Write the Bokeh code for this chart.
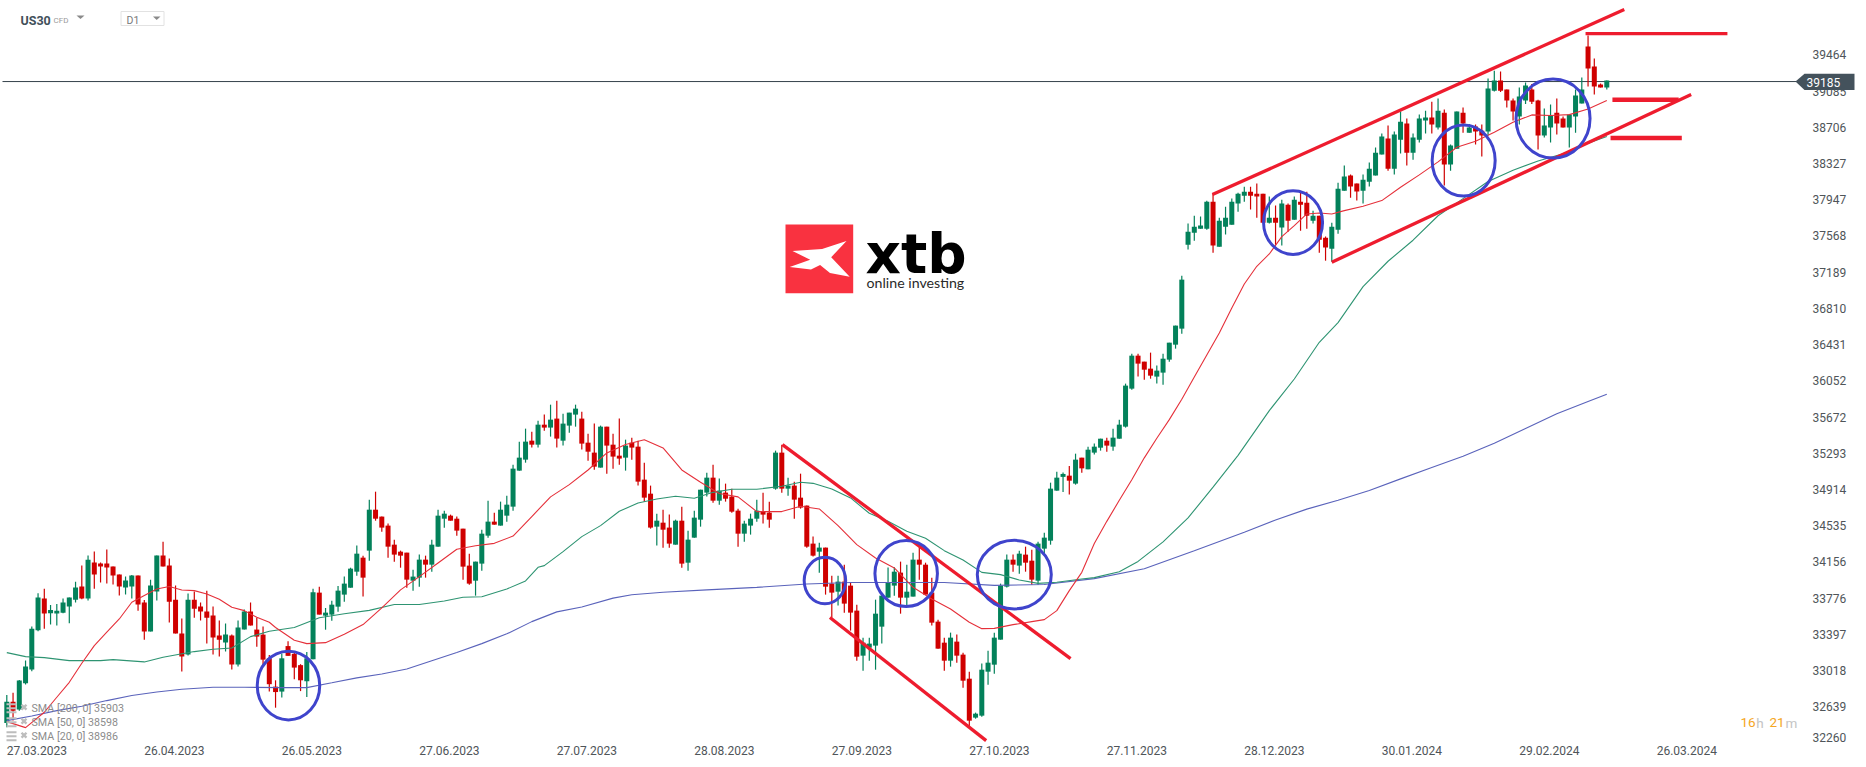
from bokeh.plotting import figure
from bokeh.models import Range1d, FixedTicker
from bokeh.core.properties import value
from bokeh.embed import file_html
from bokeh.resources import INLINE

open_ = [32416,32641,32557,32835,32979,33394,33728,33573,33570,33580,33644,33717,33855,33728,34108,34097,34097,34066,33981,33844,
33855,33971,33686,33380,33802,34182,34076,33717,33359,33137,33717,33644,33591,33549,33338,33264,33338,33032,33401,33591,
33401,33348,33098,32799,32747,33227,33145,33026,32856,33088,33791,33548,33559,33643,33770,33843,34012,34160,34234,34666,
34593,34498,34297,34223,34213,33917,33949,34139,34086,34276,34571,34603,34571,34466,34076,33917,34097,34392,34540,34498,
34603,34698,35078,35194,35394,35352,35563,35532,35627,35394,35553,35669,35627,35373,35268,35110,35542,35352,35236,35215,
35373,35331,34983,34835,34487,34529,34477,34297,34550,34107,34371,34561,34846,35004,34761,34846,34804,34656,34413,34498,
34571,34645,34635,34888,35268,34888,34920,34793,34709,34308,34223,34266,33886,33801,33907,33865,33601,33126,33210,33232,
33432,33738,33865,34002,33738,33749,34139,34086,33791,33485,33263,33073,33274,33137,32883,32472,32493,32957,33031,33295,
33854,34139,34076,34192,34128,33917,34255,34339,34867,35012,35025,34941,35215,35092,35268,35320,35394,35331,35415,35542,
35943,36291,36228,36154,36070,36112,36249,36407,36576,37462,37589,37631,37631,37916,37441,37652,37673,37895,37979,38021,
38000,38000,37694,37747,37642,37884,37726,37916,37905,37715,37768,37536,37420,37620,38032,38191,38106,38032,38127,38191,
38412,38581,38264,38570,38739,38433,38570,38771,38803,38697,38855,38307,38475,38855,38644,38708,38665,38655,39087,39193,
39098,38982,38813,38982,39098,38982,38613,38697,38855,38792,38697,38813,38950,39552,39341,39151,39119]
high = [32712,32736,32870,33074,33433,33784,33833,33661,33672,33728,33739,33907,34076,34182,34224,34108,34245,34066,33981,33960,
33978,33971,33714,33928,34182,34329,34150,33865,33517,33781,33802,33686,33812,33644,33496,33464,33348,33496,33612,33686,
33527,33433,33134,32866,33150,33279,33160,33036,33165,33831,33854,33629,33706,33861,33960,34054,34287,34181,34772,34856,
34593,34519,34350,34234,34213,34033,34192,34181,34350,34666,34656,34614,34593,34466,34202,34118,34455,34761,34635,34751,
34814,35141,35384,35521,35489,35605,35669,35774,35816,35679,35690,35774,35700,35468,35574,35553,35542,35468,35627,35405,
35426,35394,35162,34920,34624,34666,34614,34561,34698,34445,34656,34877,35057,35141,34994,34941,34888,34677,34550,34624,
34772,34846,34751,35289,35352,35004,34962,35046,34709,34382,34318,34266,33970,33970,34086,33896,33664,33316,33316,33717,
33770,34055,34058,34118,34086,34213,34266,34107,33949,33506,33316,33369,33348,33158,32957,32525,33042,33179,33369,33886,
34192,34192,34234,34276,34244,34329,34424,34951,35067,35059,35126,35257,35215,35331,35363,35415,35426,35521,35616,35996,
36312,36312,36228,36323,36186,36312,36428,36608,37135,37684,37768,37758,37926,38000,37747,37863,37948,38011,38074,38074,
38106,38000,37969,37874,37937,37895,37969,38032,38021,37821,37768,37547,37694,38116,38296,38201,38106,38201,38328,38486,
38634,38718,38655,38866,38792,38634,38834,38876,38971,39003,38887,38518,38866,38908,38736,38729,38729,39214,39298,39288,
39098,39003,39119,39172,39158,38992,38898,38940,39003,38813,38834,39098,39225,39668,39425,39161,39193]
low = [32370,32441,32546,32821,32961,33383,33411,33454,33443,33573,33468,33686,33721,33707,33833,33897,33886,33876,33760,33770,
33728,33601,33295,33380,33707,34066,33475,33359,32958,33127,33527,33496,33253,33137,33116,33169,32979,33011,33401,33443,
33221,33010,32747,32577,32685,33124,32876,32752,32691,33088,33559,33400,33495,33590,33696,33843,33970,33749,34128,34550,
34434,34160,34118,34054,33843,33812,33854,33949,34012,34276,34476,34550,34392,33928,33875,33759,34023,34371,34508,34498,
34540,34656,35078,35162,35321,35321,35500,35437,35321,35342,35479,35542,35300,35183,35088,35110,35046,35099,35141,35078,
35194,34920,34751,34466,34287,34265,34265,34297,34054,34023,34371,34487,34804,34740,34719,34751,34635,34276,34329,34403,
34540,34519,34476,34877,34846,34814,34571,34677,34265,34171,34002,33770,33527,33654,33580,33390,33073,32968,33073,32978,
33253,33738,33759,33569,33654,33749,33928,33770,33443,33200,32968,33010,33052,32788,32377,32461,32482,32820,32936,33295,
33844,34012,33991,34012,33875,33875,34199,34297,34867,34852,34826,34930,35057,35092,35247,35289,35278,35289,35415,35532,
35932,36070,36038,36048,35996,35985,36228,36365,36523,37410,37504,37631,37620,37378,37441,37568,37673,37810,37916,37832,
37747,37694,37684,37462,37452,37599,37726,37610,37631,37684,37378,37293,37283,37578,38032,37958,37927,37895,38075,38191,
38412,38243,38201,38423,38296,38359,38539,38634,38634,38676,38085,38243,38475,38644,38644,38518,38391,38613,39077,39073,
38908,38771,38729,38947,38947,38465,38592,38539,38623,38697,38486,38644,38950,39130,39045,39119,39098]
close = [32641,32546,32863,33011,33411,33739,33570,33608,33601,33686,33739,33844,33728,34139,33981,34066,34055,33971,33855,33918,
33971,33665,33380,33865,34182,34066,33696,33359,33116,33717,33622,33591,33527,33317,33295,33348,33032,33422,33591,33443,
33327,33084,32825,32742,33098,33124,33000,32866,33098,33795,33559,33580,33664,33812,33886,34044,34202,33949,34666,34571,
34477,34276,34192,34181,33928,33960,34139,34086,34297,34603,34624,34550,34445,34065,33886,34118,34413,34540,34508,34666,
34719,35099,35215,35384,35352,35563,35532,35616,35416,35574,35690,35732,35363,35278,35120,35542,35342,35226,35205,35342,
35321,34962,34793,34477,34550,34455,34308,34550,34097,34350,34582,34877,35004,34761,34867,34782,34645,34413,34519,34571,
34656,34614,34561,35268,34888,34920,34772,34688,34276,34181,34266,33854,33791,33907,33675,33580,33115,33263,33253,33569,
33759,33896,34012,33738,33801,34139,34086,33770,33474,33200,33073,33316,33126,32862,32440,32514,32978,33052,33316,33865,
34139,34086,34202,34107,33928,34308,34371,34888,35004,35043,34972,35194,35102,35299,35331,35415,35342,35426,35563,35975,
36291,36207,36143,36080,36133,36259,36428,36608,37093,37599,37652,37663,37916,37452,37715,37747,37916,38000,38021,37979,
37969,37694,37747,37694,37895,37715,37937,37884,37768,37768,37515,37431,37652,38053,38180,38075,38022,38148,38264,38433,
38602,38264,38623,38760,38433,38592,38792,38803,38729,38876,38307,38507,38866,38739,38697,38655,38613,39109,39193,39087,
38982,38866,39024,39140,38971,38613,38718,38824,38739,38697,38834,39035,39098,39320,39130,39119,39193]

sma20_idx = [0,2,3,6,8,10,12,14,16,18,20,22,24,26,28,30,32,34,36,38,40,42,43,46,48,51,54,57,60,63,66,69,72,75,78,81,84,87,90,93,96,99,102,105,108,111,114,117,120,124,127,130,133,136,139,142,145,148,151,154,156,158,161,164,166,168,170,172,174,176,178,180,182,184,186,188,190,192,194,196,198,200,202,204,206,208,210,212,214,217,220,223,226,229,232,235,238,241,244,247,250,253,256]
sma20 = [32430,32388,32367,32529,32687,32845,33046,33232,33373,33513,33689,33760,33830,33855,33819,33812,33777,33721,33637,33601,33531,33478,33423,33289,33253,33263,33351,33454,33630,33820,33960,34104,34249,34285,34311,34388,34594,34801,34930,35085,35265,35353,35404,35317,35085,34955,34837,34801,34646,34646,34703,34674,34498,34297,34157,34051,33847,33724,33618,33478,33411,33414,33453,33485,33506,33601,33812,34005,34310,34543,34765,34981,35213,35420,35616,35832,36065,36297,36529,36794,37047,37234,37364,37547,37663,37786,37796,37786,37821,37867,37927,38067,38198,38335,38490,38553,38648,38753,38831,38824,38834,38894,38982]
sma50_idx = [0,3,6,10,15,17,22,25,30,33,36,39,42,46,50,54,58,62,66,70,73,76,80,83,85,86,89,92,95,98,101,104,107,110,113,116,120,124,127,129,132,135,138,141,144,147,150,153,156,159,162,165,168,172,174,178,181,185,189,193,197,202,206,210,213,217,221,225,229,233,237,241,245,249,253,256]
sma50 = [33158,33116,33105,33074,33074,33084,33060,33109,33169,33193,33207,33327,33383,33423,33526,33568,33604,33666,33666,33702,33743,33748,33829,33914,34058,34076,34223,34382,34498,34649,34737,34779,34807,34786,34849,34881,34881,34913,34955,34944,34885,34790,34628,34543,34438,34364,34234,34135,34005,33981,33924,33889,33900,33935,33949,34011,34120,34326,34579,34904,35239,35711,36045,36432,36640,37019,37287,37509,37767,37948,38128,38247,38345,38422,38531,38603]
sma200_idx = [0,4,8,12,16,20,24,28,33,38,44,48,52,56,60,64,68,72,76,80,84,88,92,97,100,105,112,120,128,135,150,158,166,174,182,190,198,203,208,213,218,223,228,233,238,243,248,253,256]
sma200 = [32441,32490,32546,32592,32652,32705,32743,32771,32792,32792,32789,32789,32840,32892,32933,32985,33072,33160,33253,33356,33485,33588,33640,33733,33769,33795,33820,33846,33882,33898,33898,33867,33877,33939,34042,34233,34429,34558,34672,34765,34868,34991,35110,35229,35368,35523,35678,35807,35884]

price_ticks = [39464,39085,38706,38327,37947,37568,37189,36810,36431,36052,35672,35293,34914,34535,34156,33776,33397,33018,32639]
bottom_tick_label = "32260"
date_labels = ["27.03.2023","26.04.2023","26.05.2023","27.06.2023","27.07.2023","28.08.2023","27.09.2023","27.10.2023","27.11.2023","28.12.2023","30.01.2024","29.02.2024","26.03.2024"]
last_price = 39185

trend_x0 = [124.1,131.7,192.9,212.0,252.6,256.9,256.6]
trend_x1 = [170.2,156.7,258.8,269.5,275.3,267.5,268.0]
trend_y0 = [35353,33528,37990,37277,39689,38992,38587]
trend_y1 = [33095,32230,39944,39045,39689,38992,38587]
trend_w  = [3.3,3.3,3.3,3.3,3.3,4.5,4.5]

ring_x = [45.07,130.9,143.9,161.2,205.8,233.1,247.4]
ring_y = [32810,33918,33992,33981,37695,38349,38792]
ring_w = [10,6.64,10,11.84,9.44,10.08,11.84]
ring_h = [723,491,696,723,671,749,833]

legend_rows = ["SMA [200, 0] 35903","SMA [50, 0] 38598","SMA [20, 0] 38986"]

W, H = 1866, 767
DX, X0 = 6.25, 6.3
TOP_TICK = 39464
PX_PER = 10.47              # price per pixel on the reference axis (379 per 36.2 px)
READ_SCALE = PX_PER / 10.55 # my readings above used a slightly wider estimate of the scale
def cal(v): return TOP_TICK - (TOP_TICK - v) * READ_SCALE
def xd(px): return (px - X0) / DX
def yd(py): return TOP_TICK - (py - 54.4) * PX_PER

open_c, high_c, low_c, close_c = [[cal(v) for v in s] for s in (open_, high, low, close)]
sma20_c, sma50_c, sma200_c = [[cal(v) for v in s] for s in (sma20, sma50, sma200)]
trend_y0_c, trend_y1_c = [cal(v) for v in trend_y0], [cal(v) for v in trend_y1]
ring_y_c, ring_h_c = [cal(v) for v in ring_y], [v * READ_SCALE for v in ring_h]

p = figure(width=W, height=H, output_backend="svg", toolbar_location=None,
           x_range=Range1d(xd(0), xd(W)), y_range=Range1d(yd(H), yd(0)),
           min_border=0, y_axis_location="right", x_axis_location="below")
p.outline_line_color = None
p.grid.visible = False
p.background_fill_color = "white"

FONT = "Roboto"
TICK = "#4f5559"
bottom_pos = round(yd(737), 1)
ax = p.yaxis[0]
ax.fixed_location = xd(1804)
ax.ticker = FixedTicker(ticks=price_ticks + [bottom_pos])
ax.axis_line_color = None
ax.major_tick_line_color = None
ax.minor_tick_line_color = None
ax.major_label_standoff = 2
ax.major_label_text_font = FONT
ax.major_label_text_font_size = "12px"
ax.major_label_text_color = TICK
ax.major_label_overrides = {**{t: str(t) for t in price_ticks}, bottom_pos: bottom_tick_label}

label_half = 30 / DX
xt = [round(22 * k + label_half, 2) for k in range(len(date_labels))]
bx = p.xaxis[0]
bx.fixed_location = yd(738.5)
bx.ticker = FixedTicker(ticks=xt)
bx.axis_line_color = None
bx.major_tick_line_color = None
bx.minor_tick_line_color = None
bx.major_label_standoff = 1
bx.major_label_text_font = FONT
bx.major_label_text_font_size = "12px"
bx.major_label_text_color = TICK
bx.major_label_overrides = {t: d for t, d in zip(xt, date_labels)}

# price line
p.segment([xd(2)], [last_price], [xd(1796)], [last_price], line_color="#35424b", line_width=1)

# candles
GREEN, RED = "#03815a", "#cf0000"
idx = list(range(len(close_c)))
cols = [GREEN if c >= o else RED for o, c in zip(open_c, close_c)]
p.segment(idx, low_c, idx, high_c, line_color=cols, line_width=1.2)
p.vbar(x=idx, width=0.8, bottom=[min(o, c) for o, c in zip(open_c, close_c)],
       top=[max(o, c) for o, c in zip(open_c, close_c)], fill_color=cols, line_color=None)

# moving averages
p.line(sma200_idx, sma200_c, line_color="#5a63bb", line_width=1.1)
p.line(sma50_idx, sma50_c, line_color="#2e9472", line_width=1.1)
p.line(sma20_idx, sma20_c, line_color="#e5303a", line_width=1.1)

# hand-drawn annotations
p.segment(trend_x0, trend_y0_c, trend_x1, trend_y1_c, line_color="#ee1c2e", line_width=trend_w)
p.ellipse(ring_x, ring_y_c, width=ring_w, height=ring_h_c, fill_color=None,
          line_color="#3f44cc", line_width=3)

# current price flag
fx = [xd(1795), xd(1804), xd(1854), xd(1854), xd(1804)]
fy = [last_price, yd(73.3), yd(73.3), yd(89.5), yd(89.5)]
p.patch(fx, fy, fill_color="#44525c", line_color=None, level="overlay")
p.text([xd(1806)], [yd(82)], text=[str(last_price)], text_font=value(FONT), text_font_size="12px",
       text_color="white", text_baseline="middle", text_align="left", level="overlay")

# logo
p.quad(left=[xd(785)], right=[xd(852.7)], top=[yd(224)], bottom=[yd(292.7)],
       fill_color="#f93240", line_color=None)
logo_px = [(792,250.5),(821.6,248.5),(846,240.6),(830.7,256.7),(849.2,276.3),(829.5,272.4),(819.6,264.5),(810.5,269),(789.2,266.5),(809.7,259.2)]
p.patch([xd(a) for a, _ in logo_px], [yd(b) for _, b in logo_px], fill_color="white", line_color=None)
p.text([xd(865)], [yd(253)], text=["xtb"], text_font=value("DejaVu Sans"), text_font_style="bold",
       text_font_size="55px", text_color="#000000", text_baseline="alphabetic")
p.text([xd(866)], [yd(281.5)], text=["online investing"], text_font=value("Lato"), text_font_size="14.2px",
       text_color="#2a2a2a", text_baseline="alphabetic")

# header
p.text([xd(20)], [yd(19.5)], text=["US30"], text_font=value(FONT), text_font_style="bold", text_font_size="12.5px",
       text_color="#42505a", text_baseline="middle")
p.text([xd(53)], [yd(20)], text=["CFD"], text_font=value(FONT), text_font_size="8px",
       text_color="#9a9a9a", text_baseline="middle")
p.patch([xd(76), xd(84), xd(80)], [yd(15), yd(15), yd(18.5)], fill_color="#8a8a8a", line_color=None)
p.quad(left=[xd(120.5)], right=[xd(163.5)], top=[yd(11)], bottom=[yd(25)], fill_color=None, line_color="#e2e2e2", line_width=1)
p.text([xd(126)], [yd(20)], text=["D1"], text_font=value(FONT), text_font_size="10.5px",
       text_color="#7a7a7a", text_baseline="middle")
p.patch([xd(152.5), xd(160), xd(156.2)], [yd(16), yd(16), yd(19.5)], fill_color="#8a8a8a", line_color=None)

# indicator legend
for row, (txt, py) in enumerate(zip(legend_rows, [707.7, 721.7, 735.7])):
    p.text([xd(31)], [yd(py)], text=[txt], text_font=value(FONT), text_font_size="10.7px",
           text_color="#8c8c8c", text_baseline="middle")
    p.segment([xd(6)]*3, [yd(py-4), yd(py), yd(py+4)], [xd(16)]*3, [yd(py-4), yd(py), yd(py+4)],
              line_color="#bdbdbd", line_width=2)
    p.scatter([xd(23.5)], [yd(py-1)], marker="x", size=7, line_color="#bdbdbd", line_width=2.4)

# countdown
for txt, px_, col in [("16", 1740, "#f5a623"), ("h", 1755.8, "#c4c4c4"), ("21", 1769, "#f5a623"), ("m", 1785, "#c4c4c4")]:
    p.text([xd(px_)], [yd(722)], text=[txt], text_font=value(FONT), text_font_size="13.5px",
           text_color=col, text_baseline="middle")

open("out.html", "w").write(file_html(p, INLINE))
